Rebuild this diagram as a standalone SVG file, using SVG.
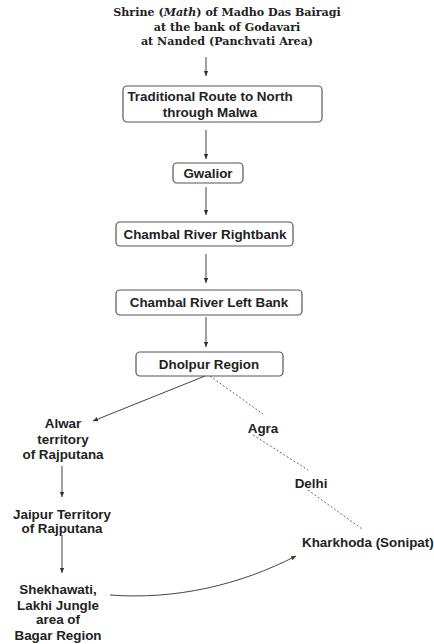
<svg xmlns="http://www.w3.org/2000/svg" width="434" height="644" viewBox="0 0 434 644">
<defs>
<style>
.t{font-family:"Liberation Sans",Arial,sans-serif;font-weight:bold;font-size:13.4px;fill:#222;text-anchor:middle}
.h{font-family:"DejaVu Serif",serif;font-weight:bold;font-size:11.1px;fill:#222;text-anchor:middle}
.b{fill:#fff;stroke:#555;stroke-width:1.2}
.c{fill:none;stroke:#444;stroke-width:1}
.d{fill:none;stroke:#666;stroke-width:1;stroke-dasharray:2 2}
</style>
<marker id="a" markerWidth="6" markerHeight="6" refX="5" refY="3" orient="auto" markerUnits="userSpaceOnUse">
<path d="M0,0.8 L5,3 L0,5.2 z" fill="#333"/>
</marker>
</defs>
<rect width="434" height="644" fill="#fff"/>
<g id="shrine">
<text class="h" x="227" y="16">Shrine (<tspan font-style="italic">Math</tspan>) of Madho Das Bairagi</text>
<text class="h" x="227" y="31">at the bank of Godavari</text>
<text class="h" x="227" y="45">at Nanded (Panchvati Area)</text>
</g>
<g id="traditional">
<rect class="b" x="123" y="86" width="199" height="36" rx="4"/>
<text class="t" x="210" y="101">Traditional Route to North</text>
<text class="t" x="210" y="117">through Malwa</text>
</g>
<g id="gwalior">
<rect class="b" x="173" y="163" width="70" height="20" rx="4"/>
<text class="t" x="208" y="178">Gwalior</text>
</g>
<g id="rightbank">
<rect class="b" x="116" y="222" width="177" height="24" rx="4"/>
<text class="t" x="205" y="239">Chambal River Rightbank</text>
</g>
<g id="leftbank">
<rect class="b" x="116" y="290" width="186" height="25" rx="4"/>
<text class="t" x="209" y="307">Chambal River Left Bank</text>
</g>
<g id="dholpur">
<rect class="b" x="136" y="352" width="147" height="24" rx="4"/>
<text class="t" x="209" y="369">Dholpur Region</text>
</g>
<g id="alwar">
<text class="t" x="63" y="428">Alwar</text>
<text class="t" x="63" y="444">territory</text>
<text class="t" x="63" y="459">of Rajputana</text>
</g>
<g id="jaipur">
<text class="t" x="62" y="519">Jaipur Territory</text>
<text class="t" x="62" y="533">of Rajputana</text>
</g>
<g id="shekhawati">
<text class="t" x="58" y="594">Shekhawati,</text>
<text class="t" x="58" y="610">Lakhi Jungle</text>
<text class="t" x="58" y="624">area of</text>
<text class="t" x="58" y="640">Bagar Region</text>
</g>
<g id="agra">
<text class="t" x="263" y="433">Agra</text>
</g>
<g id="delhi">
<text class="t" x="311" y="488">Delhi</text>
</g>
<g id="kharkhoda">
<text class="t" x="302" y="547" style="text-anchor:start">Kharkhoda (Sonipat)</text>
</g>
<g id="connectors">
<line class="c" x1="206" y1="57" x2="206" y2="76" marker-end="url(#a)"/>
<line class="c" x1="206" y1="130" x2="206" y2="159" marker-end="url(#a)"/>
<line class="c" x1="206" y1="187" x2="206" y2="215" marker-end="url(#a)"/>
<line class="c" x1="206" y1="254" x2="206" y2="283" marker-end="url(#a)"/>
<line class="c" x1="206" y1="317" x2="206" y2="347" marker-end="url(#a)"/>
<line class="c" x1="205" y1="376" x2="93" y2="421" marker-end="url(#a)"/>
<line class="d" x1="210" y1="376" x2="263" y2="414"/>
<line class="d" x1="253" y1="435" x2="308" y2="470"/>
<line class="d" x1="308" y1="490" x2="362" y2="529"/>
<line class="c" x1="62" y1="466" x2="62" y2="497" marker-end="url(#a)"/>
<line class="c" x1="62" y1="535" x2="62" y2="573" marker-end="url(#a)"/>
<path class="c" d="M110,595 C175,600 240,585 296,556" marker-end="url(#a)"/>
</g>
</svg>
